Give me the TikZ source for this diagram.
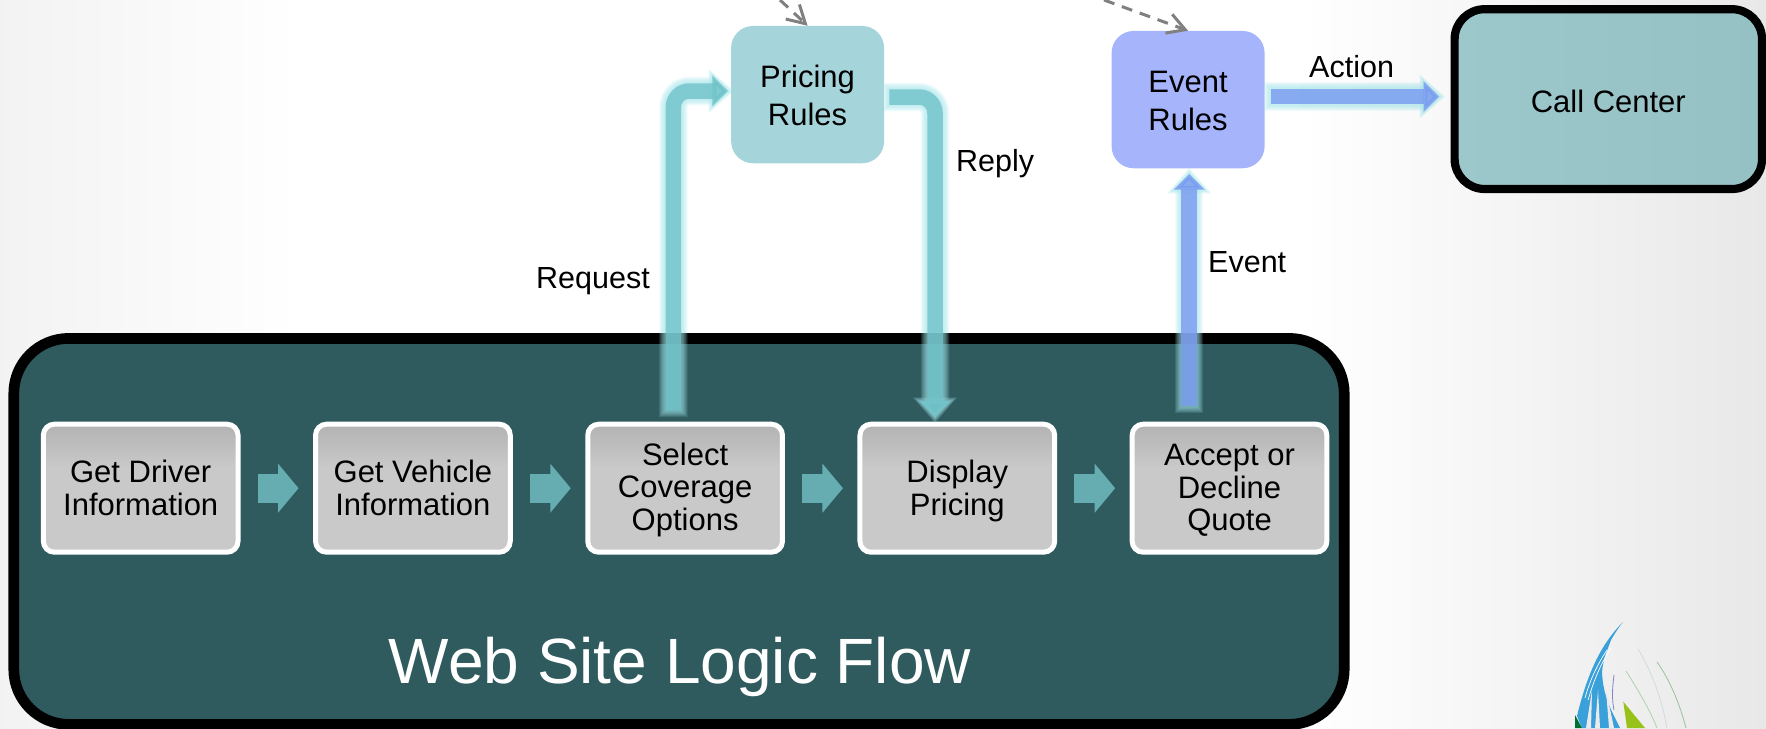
\documentclass[tikz,border=0pt]{standalone}
\usepackage{fontspec}
\setmainfont{Liberation Sans}
\usepackage{tikz}
\usetikzlibrary{arrows.meta,chains,positioning}
\definecolor{FlowFill}{HTML}{2F5A5E}
\definecolor{PricingFill}{HTML}{A5D5DA}
\definecolor{EventFill}{HTML}{A5B4FB}
\definecolor{CallLeft}{HTML}{9DC8CB}
\definecolor{CallRight}{HTML}{96C1C4}
\definecolor{TealLink}{HTML}{6FC3C9}
\definecolor{BlueLink}{HTML}{7A9CF0}
\definecolor{HaloCyan}{HTML}{9FE3E8}
\definecolor{StepArrow}{HTML}{65ADB1}
\definecolor{LogoBlue}{HTML}{3AA0DA}
\pgfdeclareverticalshading{StepShade}{100bp}{color(0bp)=(black!21); color(58bp)=(black!21);
  color(75bp)=(black!30); color(100bp)=(black!30)}
\tikzset{%
  LabelStyle/.style={anchor=base west,inner sep=0pt,font=\fontsize{30.5}{33}\selectfont},
  StepStyle/.style={draw=white,line width=5pt,rounded corners=11pt,minimum width=194.7pt,
    minimum height=128pt,inner sep=0pt,align=center,shading=StepShade,
    font=\fontsize{31}{32.7}\selectfont},
  RuleStyle/.style={rounded corners=22pt,minimum width=153pt,minimum height=137.3pt,
    inner sep=0pt,align=center,font=\fontsize{31}{38}\selectfont},
  StepLink/.style={draw=StepArrow,line width=29pt,shorten <=17pt,shorten >=14.5pt,
    -{Triangle[length=20.5pt,width=48pt]}},
  FeedLink/.style={draw=black!50,line width=3pt,dash pattern=on 11pt off 8pt,
    -{Straight Barb[length=17.5pt,width=20pt]}}
}
\newcommand{\lowered}[1]{\rule{0pt}{\dimexpr22pt+#1pt\relax}}
\newcommand{\glowlink}[4]{%
  \foreach \w in {6.5,5.5,4.5,3.5,2.5,1.5}{
    \pgfmathsetmacro\hlen{15.5+1.6*\w}
    \pgfmathsetmacro\hwid{30+2*\w}
    \draw[draw=HaloCyan,opacity=.15,line width=15.5pt+2*\w pt,rounded corners=16pt,
      shorten <=#2pt-\w pt,shorten >=#3pt-\w pt,-{Triangle[length=\hlen pt,width=\hwid pt]}] #4;
  }
  \draw[draw=#1,line width=15.5pt,rounded corners=16pt,shorten <=#2pt,shorten >=#3pt,
    -{Triangle[length=15.5pt,width=30pt]}] #4;
}
\begin{document}
\begin{tikzpicture}[x=1pt,y=-1pt]
  \useasboundingbox (0,0) rectangle (1766,728);
  \fill[left color=black!5,right color=white] (0,0) rectangle (300,728);
  \fill[left color=white,right color=black!9] (1300,0) rectangle (1766,728);

  % logo in the corner
  \fill[LogoBlue] (1623,622) .. controls (1600,645) and (1587,675) .. (1577,716) -- (1582,728)
    -- (1620,728) .. controls (1610,708) and (1603,695) .. (1602,672)
    .. controls (1603,662) and (1605,655) .. (1608,648) -- (1611,640)
    .. controls (1614,635) and (1618,628) .. (1623,622) -- cycle;
  \foreach \a/\b in {1592/1588,1598/1597,1606/1611}
    \fill[white!92!black] (\a,690) -- (\b-2,728) -- (\b+3,728) -- cycle;
  \draw[white,line width=.7pt] (1611,648) .. controls (1600,665) and (1594,680) .. (1588,700);
  \draw[white,line width=.7pt] (1607,650) .. controls (1597,665) and (1590,680) .. (1585,698);
  \fill[black!45!green!80!blue] (1575,715) -- (1582,728) -- (1575,728) -- cycle;
  \fill[green!40!black!45!yellow!90!white] (1623.3,701.7) -- (1645,728) -- (1627,728) -- cycle;
  \draw[blue!40!gray!70,line width=.8pt] (1614,675) .. controls (1612,690) and (1612,700) .. (1614,710);
  \draw[cyan!20!gray!35,line width=.8pt] (1638,649) .. controls (1652,672) and (1662,700) .. (1667,728);
  \draw[black!60!green!40!white,line width=.8pt] (1657,662) .. controls (1670,680) and (1680,705) .. (1686,728);
  \draw[green!30!gray!50,line width=.8pt] (1626,671) .. controls (1638,690) and (1650,710) .. (1657,728);

  \node[draw=black,fill=FlowFill,line width=10.7pt,rounded corners=55pt,minimum width=1330.4pt,
    minimum height=386pt] (flow) at (679,531.4) {};
  \node[anchor=base,inner sep=0pt,text=white,font=\fontsize{64}{70}\selectfont] (title)
    at (680,683.5) {Web Site Logic Flow};

  \begin{scope}[start chain,node distance=72.5pt,shift={(140.7,488.2)}]
    \foreach \name [count=\xi] in {
      Get Driver\\Information,Get Vehicle\\Information,
      \lowered{4}Select\\Coverage\\Options,\lowered{6}Display\\Pricing,\lowered{4}Accept or\\Decline\\Quote
    }{ \node[StepStyle,on chain] (step\xi) {\name};}
  \end{scope}
  \foreach \xi [remember=\xi as \prev (initially 1)] in {2,...,5}
    \draw[StepLink] (step\prev) -- (step\xi);

  \node[RuleStyle,fill=PricingFill] (pricing) at (807.6,94.6) {\lowered{3}Pricing\\Rules};
  \node[RuleStyle,fill=EventFill] (event) at (1188.1,99.6) {\lowered{2}Event\\Rules};
  \node[draw=black,line width=8.2pt,rounded corners=30pt,minimum width=307.4pt,
    minimum height=179.8pt,left color=CallLeft,right color=CallRight,align=center,
    inner sep=0pt,font=\fontsize{31}{33}\selectfont] (call) at (1608.3,99.1) {\lowered{6}Call Center};

  \coordinate (feedA) at (780,0);
  \coordinate (feedB) at (1104,0);
  \draw[FeedLink] (feedA) -- (pricing.north);
  \draw[FeedLink] (feedB) -- (event.north);

  \glowlink{TealLink,opacity=.8}{11}{3}{([xshift=-11.7pt]step3.north) |- ([yshift=3.6pt]pricing.west)}
  \glowlink{TealLink,opacity=.8}{5}{5}{([yshift=-2.4pt]pricing.east) -| ([xshift=-22.3pt]step4.north)}
  \glowlink{BlueLink,opacity=.82}{15.7}{5.7}{([xshift=-40.3pt]step5.north) -- ([xshift=-40.3pt]step5.north |- event.south)}
  \glowlink{BlueLink,opacity=.82}{6}{11.5}{([yshift=3pt]event.east) -- ([yshift=3pt]event.east -| call.west)}

  \node[LabelStyle] (request) at (536,288) {Request};
  \node[LabelStyle] (reply) at (956,171.7) {Reply};
  \node[LabelStyle] (eventlabel) at (1208,272.7) {Event};
  \node[LabelStyle] (action) at (1309,77.7) {Action};
\end{tikzpicture}
\end{document}
